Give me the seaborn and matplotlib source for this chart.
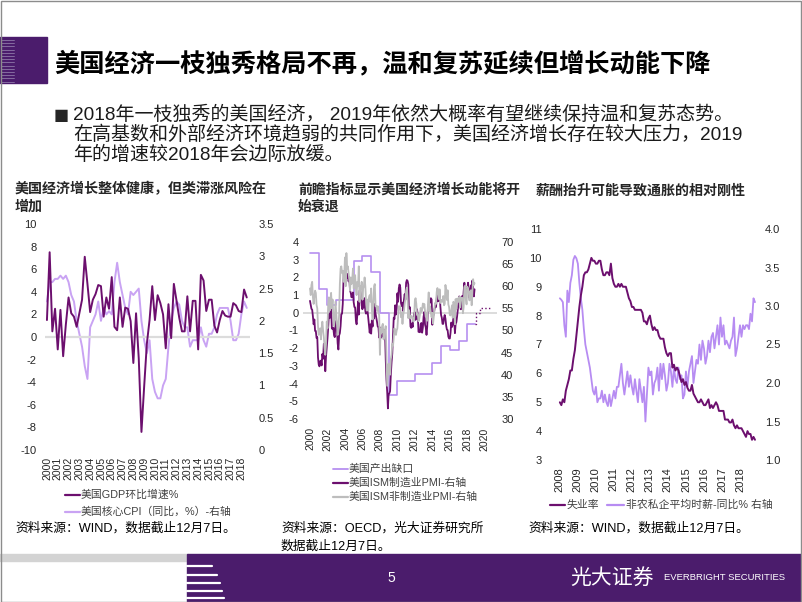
import numpy as np
import matplotlib
matplotlib.use("Agg")
import matplotlib.pyplot as plt
import seaborn as sns
from matplotlib.patches import Rectangle
from matplotlib.lines import Line2D

# ---------------- data ----------------
# Chart 1: US GDP QoQ annualised (%), 2000Q1-2018Q3 ; core CPI YoY (%) right axis
gdp = [1.5, 7.5, 0.5, 2.5,
       -1.1, 2.4, -1.7, 1.1,
       3.5, 2.1, 1.8, 0.9,
       2.1, 3.3, 7.1, 4.7,
       2.2, 3.3, 3.8, 4.6,
       4.5, 1.8, 3.5, 2.5,
       5.3, 0.9, 0.6, 3.5,
       0.9, 2.6, 2.5, 1.4,
       -2.3, 2.1, -1.9, -8.4,
       -4.4, -0.6, 1.5, 4.5,
       1.5, 3.7, 3.0, 2.0,
       -1.0, 2.9, -0.1, 4.7,
       3.2, 1.7, 0.5, 0.5,
       3.6, 0.5, 3.2, 3.2,
       -1.1, 5.5, 5.0, 2.3,
       3.3, 3.3, 1.0, 0.4,
       1.5, 2.3, 1.9, 1.8,
       1.8, 3.0, 2.8, 2.3,
       2.2, 4.2, 3.5]
core_cpi = [2.3, 2.6, 2.6, 2.65,
            2.65, 2.7, 2.65, 2.7,
            2.6, 2.4, 2.3, 2.0,
            1.8, 1.6, 1.3, 1.1,
            1.9, 2.0, 2.1, 2.3,
            2.0, 2.2, 2.1, 2.15,
            2.1, 2.6, 2.9, 2.6,
            2.4, 2.2, 2.1, 2.45,
            2.4, 2.45, 2.5, 2.0,
            1.7, 1.5, 1.7, 1.1,
            0.9, 0.8, 0.8, 1.0,
            1.1, 1.6, 2.0, 2.2,
            2.3, 2.25, 2.0, 1.9,
            1.9, 1.6, 1.7, 1.7,
            1.7, 1.9, 1.7, 1.6,
            1.8, 1.8, 1.9, 2.1,
            2.2, 2.2, 2.2, 2.2,
            2.0, 1.7, 1.7, 1.8,
            2.1, 2.3, 2.2]
c1_years = list(range(2000, 2019))

# Chart 2: OECD output gap (annual), ISM manufacturing & non-manufacturing PMI (monthly, right axis)
gap_years = list(range(2000, 2019))
output_gap = [3.38, 1.35, 0.44, 0.72, 0.72, 2.93, 3.23, 2.32, 0.0, -4.65,
              -3.85, -3.85, -3.45, -3.45, -2.85, -1.9, -2.1, -1.6, -0.65]
gap_fc_x = [2019.0, 2019.4, 2020.6]
gap_fc = [0.0, 0.27, 0.27]
ism_mfg = [56.7, 55.8, 54.9, 54.7, 53.2, 51.4, 52.5, 49.9, 49.9, 48.3, 48.5, 43.9,
           42.3, 41.9, 43.1, 43.2, 42.1, 44.7, 43.6, 47.0, 46.2, 40.8, 44.1, 46.1,
           48.2, 50.7, 53.7, 52.8, 54.0, 55.5, 50.5, 50.3, 50.6, 49.0, 48.5, 51.6,
           52.2, 50.5, 47.1, 45.7, 48.9, 49.4, 51.0, 53.7, 53.8, 56.0, 61.4, 63.3,
           63.6, 61.4, 61.7, 62.4, 62.8, 61.1, 62.0, 59.0, 58.5, 57.5, 57.8, 58.6,
           56.4, 55.3, 55.2, 52.3, 51.4, 53.6, 56.6, 53.6, 59.0, 59.0, 58.0, 55.6,
           54.8, 56.7, 55.2, 57.3, 54.4, 53.8, 54.7, 54.5, 52.9, 51.2, 49.5, 51.4,
           49.3, 52.3, 50.9, 54.7, 52.7, 56.0, 53.8, 52.9, 52.0, 50.9, 50.8, 48.4,
           50.7, 48.3, 48.6, 48.6, 49.6, 50.2, 50.0, 49.9, 43.5, 38.9, 36.2, 32.4,
           35.6, 35.8, 36.3, 40.1, 42.8, 44.8, 48.9, 52.9, 52.6, 55.7, 53.6, 54.9,
           58.4, 56.5, 59.6, 60.4, 59.7, 56.2, 55.5, 56.3, 54.4, 56.9, 58.2, 57.0,
           60.8, 61.4, 61.2, 60.4, 53.5, 55.3, 50.9, 50.6, 51.6, 50.8, 52.7, 53.9,
           54.1, 52.4, 53.4, 54.8, 53.5, 49.7, 49.8, 49.6, 51.5, 51.7, 49.5, 50.7,
           53.1, 54.2, 51.3, 50.7, 49.0, 50.9, 55.4, 55.7, 56.2, 56.4, 57.3, 57.0,
           51.3, 53.2, 53.7, 54.9, 55.4, 55.3, 57.1, 59.0, 56.6, 59.0, 58.7, 55.5,
           53.5, 52.9, 51.5, 51.5, 52.8, 53.5, 52.7, 51.1, 50.2, 50.1, 48.6, 48.2,
           48.2, 49.5, 51.8, 50.8, 51.3, 53.2, 52.6, 49.4, 51.5, 51.9, 53.2, 54.7,
           56.0, 57.7, 57.2, 54.8, 54.9, 57.8, 56.3, 58.8, 60.8, 58.7, 58.2, 59.7,
           59.1, 60.8, 59.3, 57.3, 58.7, 60.2, 58.1, 61.3, 59.8, 57.7, 59.3]
ism_nonmfg = [59.5, 58.0, 60.3, 61.0, 57.5, 56.0, 57.8, 59.0, 58.5, 55.8, 55.0, 51.0,
              49.0, 49.5, 50.5, 48.0, 50.5, 52.0, 50.0, 48.5, 46.0, 44.5, 47.0, 52.0,
              50.5, 56.0, 57.5, 54.5, 56.0, 58.5, 55.0, 57.0, 53.5, 51.0, 52.5, 56.5,
              54.0, 51.5, 49.0, 51.0, 53.5, 60.5, 64.0, 64.5, 63.0, 63.5, 61.0, 62.0,
              66.5, 60.0, 67.5, 64.0, 64.5, 63.0, 61.5, 59.0, 62.0, 60.5, 61.5, 64.0,
              59.5, 60.0, 62.5, 59.5, 58.0, 61.0, 60.0, 64.5, 56.5, 60.0, 59.5, 61.0,
              57.0, 59.5, 60.0, 62.0, 60.0, 56.5, 54.5, 57.0, 54.5, 57.5, 58.0, 56.5,
              59.5, 54.5, 52.5, 56.0, 60.0, 60.5, 55.5, 55.5, 54.5, 55.5, 54.0, 53.5,
              44.5, 50.5, 49.5, 51.0, 51.5, 48.0, 49.5, 50.0, 51.0, 44.0, 37.5, 40.0,
              42.5, 41.5, 40.0, 43.5, 44.5, 47.0, 46.5, 48.5, 50.5, 49.5, 49.0, 50.0,
              50.5, 53.0, 55.5, 55.0, 55.5, 53.0, 54.0, 51.5, 53.5, 54.5, 56.0, 57.0,
              59.0, 59.7, 57.3, 52.8, 54.6, 53.3, 52.7, 53.3, 53.0, 52.9, 52.0, 52.6,
              56.8, 57.3, 56.0, 53.5, 53.7, 52.1, 52.6, 53.7, 55.1, 54.2, 54.7, 56.1,
              55.2, 56.0, 54.4, 53.1, 53.7, 52.2, 56.0, 58.6, 54.4, 55.4, 53.9, 53.0,
              54.0, 51.6, 53.1, 55.2, 56.3, 56.0, 58.7, 59.6, 58.6, 57.1, 59.3, 56.2,
              56.7, 56.9, 56.5, 57.8, 55.7, 56.0, 60.3, 59.0, 56.9, 59.1, 55.9, 55.3,
              53.5, 53.4, 54.5, 55.7, 52.9, 56.5, 55.5, 51.4, 57.1, 54.8, 57.2, 57.2,
              56.5, 57.6, 55.2, 57.5, 56.9, 57.4, 53.9, 55.3, 59.8, 60.1, 57.4, 55.9,
              59.9, 59.5, 58.8, 56.8, 58.6, 59.1, 55.7, 58.5, 61.6, 60.3, 60.7]
c2_ticks = list(range(2000, 2021, 2))

# Chart 3: unemployment rate (%) and private average hourly earnings YoY (%, right), Jan 2008 - Nov 2018
unemp = [5.0, 4.9, 5.1, 5.0, 5.4, 5.6, 5.8, 6.1, 6.1, 6.5, 6.8, 7.3,
         7.8, 8.3, 8.7, 9.0, 9.4, 9.5, 9.5, 9.6, 9.8, 10.0, 9.9, 9.9,
         9.8, 9.8, 9.9, 9.9, 9.6, 9.4, 9.4, 9.5, 9.5, 9.4, 9.8, 9.3,
         9.1, 9.0, 9.0, 9.1, 9.0, 9.1, 9.0, 9.0, 9.0, 8.8, 8.6, 8.5,
         8.3, 8.3, 8.2, 8.2, 8.2, 8.2, 8.2, 8.1, 7.8, 7.8, 7.7, 7.9,
         8.0, 7.7, 7.5, 7.6, 7.5, 7.5, 7.3, 7.2, 7.2, 7.2, 6.9, 6.7,
         6.6, 6.7, 6.7, 6.2, 6.3, 6.1, 6.2, 6.1, 5.9, 5.7, 5.8, 5.6,
         5.7, 5.5, 5.4, 5.4, 5.6, 5.3, 5.2, 5.1, 5.0, 5.0, 5.1, 5.0,
         4.9, 4.9, 5.0, 5.1, 4.8, 4.9, 4.8, 4.9, 5.0, 4.9, 4.7, 4.7,
         4.7, 4.7, 4.4, 4.4, 4.4, 4.3, 4.3, 4.4, 4.2, 4.1, 4.2, 4.1,
         4.1, 4.1, 4.0, 3.9, 3.8, 4.0, 3.9, 3.9, 3.7, 3.8, 3.7]
ahe_yoy = [3.10, 3.08, 3.05, 2.75, 2.60, 3.20, 3.05, 3.30, 3.40, 3.60, 3.65, 3.62,
           3.55, 3.30, 3.10, 2.95, 2.70, 2.50, 2.40, 2.30, 2.20, 2.05, 1.90, 1.85,
           1.95, 1.75, 1.80, 1.80, 1.90, 1.75, 1.85, 1.75, 1.70, 1.85, 1.70, 1.80,
           1.90, 1.80, 1.95, 1.95, 2.10, 2.25, 2.00, 1.85, 2.00, 2.15, 1.95, 2.10,
           1.95, 1.85, 2.05, 1.90, 1.75, 2.05, 1.90, 1.75, 1.95, 1.50, 1.85, 2.20,
           2.10, 2.15, 1.85, 2.00, 2.05, 2.20, 1.90, 2.25, 2.05, 2.25, 2.10, 1.90,
           2.00, 2.25, 2.15, 1.95, 2.20, 2.05, 2.00, 2.20, 2.05, 2.10, 1.80, 1.85,
           2.15, 1.95, 2.15, 2.25, 2.35, 2.00, 2.15, 2.30, 2.25, 2.50, 2.30, 2.55,
           2.45, 2.25, 2.35, 2.55, 2.40, 2.60, 2.65, 2.45, 2.60, 2.75, 2.50, 2.85,
           2.60, 2.75, 2.50, 2.55, 2.50, 2.45, 2.55, 2.60, 2.85, 2.35, 2.45, 2.60,
           2.75, 2.60, 2.75, 2.70, 2.75, 2.75, 2.70, 2.90, 2.80, 3.10, 3.05]
c3_years = list(range(2008, 2019))

# ---------------- style ----------------
sns.set_theme(style="white")
plt.rcParams['font.family'] = ['Liberation Sans', 'Noto Sans CJK SC', 'DejaVu Sans']
plt.rcParams['axes.unicode_minus'] = False

DARK = '#6C0F6E'
LIGHT = '#C9A3F3'
LIGHT3 = '#B78CF2'
GAPC = '#B690F0'
GRAYL = '#BDBDBD'
PURPLE = '#4B1C6C'
ZERO = '#DCDCDC'
TXT = '#000000'
LEG = '#404040'

W, H = 802, 602
fig = plt.figure(figsize=(W / 100, H / 100), dpi=100)
fig.patch.set_facecolor('white')


def ax_px(x0, y0, x1, y1):
    return fig.add_axes([x0 / W, 1 - y1 / H, (x1 - x0) / W, (y1 - y0) / H])


def T(x, y, s, **kw):
    kw.setdefault('va', 'center')
    kw.setdefault('ha', 'left')
    return fig.text(x / W, 1 - y / H, s, **kw)


def L(x0, x1, y0, y1=None, **kw):
    if y1 is None:
        y1 = y0
    fig.add_artist(Line2D([x0 / W, x1 / W], [1 - y0 / H, 1 - y1 / H], transform=fig.transFigure, **kw))


def clean(ax):
    for s in ax.spines.values():
        s.set_visible(False)
    ax.grid(False)
    ax.set_facecolor('none')
    ax.set_xlabel('')
    ax.set_ylabel('')


# ---------------- slide decoration ----------------
fig.add_artist(Rectangle((0, 1 - 83 / H), 47 / W, 46 / H, transform=fig.transFigure,
                         color=PURPLE, zorder=1))
for yy in np.arange(40, 82, 3.2):
    L(1, 14, yy, color='#8F77A8', lw=0.6, zorder=2)
T(54, 64, '美国经济一枝独秀格局不再，温和复苏延续但增长动能下降', fontsize=18.2,
  fontweight='bold', color=TXT)
T(54, 115, '■', fontsize=11.5, color='#262626', family=['DejaVu Sans'])
T(73, 115, '2018年一枝独秀的美国经济， 2019年依然大概率有望继续保持温和复苏态势。',
  fontsize=13.7, color='#1a1a1a')
T(73, 135, '在高基数和外部经济环境趋弱的共同作用下，美国经济增长存在较大压力，2019',
  fontsize=13.7, color='#1a1a1a')
T(73, 155, '年的增速较2018年会边际放缓。', fontsize=13.7, color='#1a1a1a')

# footer
fig.add_artist(Rectangle((0, 1 - 561 / H), 188 / W, 7 / H, transform=fig.transFigure,
                         color='#D3D3D3', zorder=1))
fig.add_artist(Rectangle((187 / W, 0), (W - 187) / W, (H - 554) / H,
                         transform=fig.transFigure, color=PURPLE, zorder=1))
for yy, xe in zip([566, 575, 583, 591, 598], [212, 217, 220, 222, 224]):
    L(187, xe, yy, color='white', lw=1.6, zorder=2)
T(391, 578, '5', fontsize=10, color='white', ha='center')
T(570, 578, '光大证券', fontsize=15, color='white', family=['Noto Sans CJK SC', 'DejaVu Sans'])
T(664, 578, 'EVERBRIGHT SECURITIES', fontsize=6.8, color='white',
  family=['Liberation Sans Narrow', 'Liberation Sans', 'DejaVu Sans'])
fig.add_artist(Rectangle((0.5 / W, 0.5 / H), (W - 1.5) / W, (H - 1.5) / H,
                         transform=fig.transFigure, fill=False, edgecolor='#8C8C8C', lw=1.0, zorder=5))

# ---------------- chart 1 ----------------
ax1 = ax_px(45, 224, 250, 450)
x_q = [2000 + i / 4 for i in range(len(gdp))]
ax1.axhline(0, color=ZERO, lw=1.6, zorder=0)
sns.lineplot(x=x_q, y=gdp, ax=ax1, color=DARK, linewidth=1.4, legend=False, zorder=3)
ax1.set_ylim(-10, 10)
ax1.set_xlim(1999.82, 2018.8)
ax1.set_yticks(range(-10, 11, 2))
ax1.set_yticklabels([str(v) for v in range(-10, 11, 2)], fontsize=8)
ax1.set_xticks(c1_years)
ax1.set_xticklabels([str(y) for y in c1_years], rotation=90, fontsize=7.5)
ax1.tick_params(axis='both', length=0)
ax1.tick_params(axis='y', pad=6)
ax1.tick_params(axis='x', pad=5)
clean(ax1)
ax1b = ax1.twinx()
sns.lineplot(x=x_q[:len(core_cpi)], y=core_cpi, ax=ax1b, color=LIGHT, linewidth=1.4, legend=False)
ax1b.set_ylim(0, 3.5)
r1 = [0, 0.5, 1, 1.5, 2, 2.5, 3, 3.5]
ax1b.set_yticks(r1)
ax1b.set_yticklabels(['0', '0.5', '1', '1.5', '2', '2.5', '3', '3.5'], fontsize=8)
ax1b.tick_params(axis='y', length=0, pad=6)
clean(ax1b)
ax1.set_zorder(ax1b.get_zorder() + 1)

T(15, 189, '美国经济增长整体健康，但类滞涨风险在', fontsize=10.1, fontweight='bold')
T(15, 207, '增加', fontsize=10.1, fontweight='bold')
L(65, 80, 495, color=DARK, lw=1.6)
T(81, 495, '美国GDP环比增速%', fontsize=7.8, color=LEG)
L(65, 80, 512, color=LIGHT, lw=1.6)
T(81, 512, '美国核心CPI（同比，%）-右轴', fontsize=7.8, color=LEG)
T(15, 528, '资料来源：WIND，数据截止12月7日。', fontsize=9.2, color=TXT)

# ---------------- chart 2 ----------------
ax2 = ax_px(303, 242, 497, 419)
ax2.axhline(0, color=ZERO, lw=1.4, zorder=0)
gx = gap_years + [gap_years[-1] + 0.86]
gy = output_gap + [output_gap[-1]]
sns.lineplot(x=gx, y=gy, ax=ax2, color=GAPC, linewidth=1.2, drawstyle='steps-post', legend=False)
sns.lineplot(x=[gx[-1]] + gap_fc_x, y=[gy[-1]] + gap_fc, ax=ax2, color=DARK, linewidth=1.0,
             drawstyle='steps-post', linestyle=':', legend=False)
ax2.set_ylim(-6, 4)
ax2.set_xlim(1999.2, 2021.4)
ax2.set_yticks(range(-6, 5))
ax2.set_yticklabels([str(v) for v in range(-6, 5)], fontsize=8)
ax2.set_xticks(c2_ticks)
ax2.set_xticklabels([str(y) for y in c2_ticks], rotation=90, fontsize=7.5)
ax2.tick_params(axis='both', length=0)
ax2.tick_params(axis='y', pad=3)
ax2.tick_params(axis='x', pad=6)
clean(ax2)
ax2b = ax2.twinx()
x_m2 = [2000 + i / 12 for i in range(len(ism_mfg))]
sns.lineplot(x=x_m2, y=ism_mfg, ax=ax2b, color=DARK, linewidth=1.3, legend=False)
sns.lineplot(x=x_m2[:len(ism_nonmfg)], y=ism_nonmfg, ax=ax2b, color=GRAYL, linewidth=1.3, legend=False)
ax2b.set_ylim(30, 70)
ax2b.set_yticks(range(30, 71, 5))
ax2b.set_yticklabels([str(v) for v in range(30, 71, 5)], fontsize=8)
ax2b.tick_params(axis='y', length=0, pad=3)
clean(ax2b)

T(298, 190, '前瞻指标显示美国经济增长动能将开', fontsize=10, fontweight='bold')
T(298, 207, '始衰退', fontsize=10, fontweight='bold')
L(333, 348, 469, color=GAPC, lw=1.3)
T(349, 469, '美国产出缺口', fontsize=7.8, color=LEG)
L(333, 348, 483, color=DARK, lw=1.6)
T(349, 483, '美国ISM制造业PMI-右轴', fontsize=7.8, color=LEG)
L(333, 348, 497, color=GRAYL, lw=1.6)
T(349, 497, '美国ISM非制造业PMI-右轴', fontsize=7.8, color=LEG)
T(281, 528, '资料来源：OECD，光大证券研究所', fontsize=9.2, color=TXT)
T(281, 547, '数据截止12月7日。', fontsize=9.2, color=TXT)

# ---------------- chart 3 ----------------
ax3 = ax_px(553, 229, 758, 460)
x_m3 = [2008 + i / 12 for i in range(len(unemp))]
sns.lineplot(x=x_m3, y=unemp, ax=ax3, color=DARK, linewidth=1.4, legend=False, zorder=3)
ax3.set_ylim(3, 11)
ax3.set_xlim(2007.62, 2019.0)
ax3.set_yticks(range(3, 12))
ax3.set_yticklabels([str(v) for v in range(3, 12)], fontsize=8)
ax3.set_xticks(c3_years)
ax3.set_xticklabels([str(y) for y in c3_years], rotation=90, fontsize=8)
ax3.tick_params(axis='both', length=0)
ax3.tick_params(axis='y', pad=8)
ax3.tick_params(axis='x', pad=5)
clean(ax3)
ax3b = ax3.twinx()
sns.lineplot(x=x_m3[:len(ahe_yoy)], y=ahe_yoy, ax=ax3b, color=LIGHT3, linewidth=1.3, legend=False)
ax3b.set_ylim(1.0, 4.0)
r3 = [1.0, 1.5, 2.0, 2.5, 3.0, 3.5, 4.0]
ax3b.set_yticks(r3)
ax3b.set_yticklabels(['%.1f' % v for v in r3], fontsize=8)
ax3b.tick_params(axis='y', length=0, pad=5)
clean(ax3b)
ax3.set_zorder(ax3b.get_zorder() + 1)

T(536, 191, '薪酬抬升可能导致通胀的相对刚性', fontsize=10.1, fontweight='bold')
L(550, 565, 505, color=DARK, lw=1.6)
T(567, 505, '失业率', fontsize=7.8, color=LEG)
L(607, 624, 505, color=LIGHT3, lw=1.6)
T(626, 505, '非农私企平均时薪-同比% 右轴', fontsize=7.8, color=LEG)
T(528, 528, '资料来源：WIND，数据截止12月7日。', fontsize=9.2, color=TXT)

fig.savefig('out.png', dpi=100, facecolor='white')
